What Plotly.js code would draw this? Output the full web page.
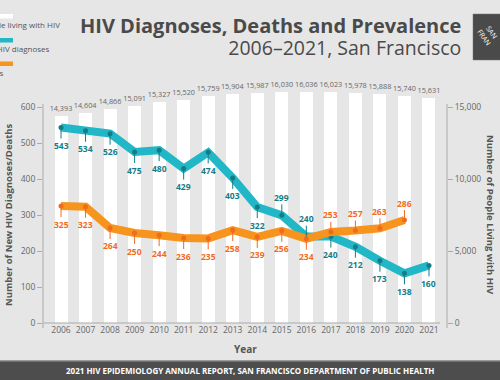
<!DOCTYPE html>
<html><head><meta charset="utf-8">
<script src="https://cdn.plot.ly/plotly-3.0.1.min.js"></script>
<style>html,body{margin:0;padding:0;background:#e6e6e6}#c{width:500px;height:380px}</style>
</head><body><div id="c"></div>
<script>
const years = [2006,2007,2008,2009,2010,2011,2012,2013,2014,2015,2016,2017,2018,2019,2020,2021];
const livingWithHIV = [14393,14604,14866,15091,15327,15520,15759,15904,15987,16030,16036,16023,15978,15888,15740,15631];
const newDiagnoses = [543,534,526,475,480,429,474,403,322,299,240,240,212,173,138,160];
const deathYears = [2006,2007,2008,2009,2010,2011,2012,2013,2014,2015,2016,2017,2018,2019,2020];
const deaths = [325,323,264,250,244,236,235,258,239,256,234,253,257,263,286];
const diagLabelAbove = [2015,2016];
const deathLabelAbove = [2017,2018,2019,2020];
const leftTicks = [0,100,200,300,400,500,600];
const rightTicks = [0,5000,10000,15000];

const FONT = "Open Sans, sans-serif";
const W = 500, H = 380, L = 43, R = 53, T = 71, B = 57;
const pw = W - L - R, ph = H - T - B;
const px = x => (x - L) / pw;
const py = y => (H - B - y) / ph;

const TEAL = "#21b7c7", TEAL_D = "#157c86", ORANGE = "#f7941d", ORANGE_D = "#f26a21";

const traces = [
  {type:"bar", x:years, y:livingWithHIV, yaxis:"y", marker:{color:"#ffffff"}, width:0.53,
   text:livingWithHIV.map(v=>v.toLocaleString("en-US")), textposition:"outside", cliponaxis:false, constraintext:"none",
   textfont:{family:FONT, size:7.3, color:"#666"}, hoverinfo:"skip"},
  {type:"scatter", mode:"lines+markers", x:years, y:newDiagnoses, yaxis:"y2",
   line:{color:TEAL, width:8}, marker:{color:TEAL_D, size:5}, cliponaxis:false},
  {type:"scatter", mode:"lines+markers", x:deathYears, y:deaths, yaxis:"y2",
   line:{color:ORANGE, width:8}, marker:{color:ORANGE_D, size:5}, cliponaxis:false}
];

const ann = [];
years.forEach((yr,i)=>{
  const up = diagLabelAbove.includes(yr);
  ann.push({x:yr, y:newDiagnoses[i], xref:"x", yref:"y2", text:"<b>"+newDiagnoses[i]+"</b>",
    showarrow:true, arrowhead:0, arrowwidth:1, arrowcolor:TEAL_D, ax:0, ay: up ? -18 : 18,
    font:{family:FONT, size:8.5, color:TEAL_D}});
});
deathYears.forEach((yr,i)=>{
  const up = deathLabelAbove.includes(yr);
  ann.push({x:yr, y:deaths[i], xref:"x", yref:"y2", text:"<b>"+deaths[i]+"</b>",
    showarrow:true, arrowhead:0, arrowwidth:1, arrowcolor:ORANGE_D, ax:0, ay: up ? -17 : 18,
    font:{family:FONT, size:8.5, color:ORANGE_D}});
});
// title block (one text, two lines)
ann.push({xref:"paper", yref:"paper", x:px(463), y:py(36), xanchor:"right", yanchor:"middle", align:"right", showarrow:false,
  text:"<span style='font-size:20px;font-weight:bold'>HIV Diagnoses, Deaths and Prevalence</span><br><span style='font-size:19.5px'>2006–2021, San Francisco</span>",
  font:{family:FONT, size:17, color:"#4a4a4a"}});
// legend
ann.push({xref:"paper", yref:"paper", x:px(62), y:py(25), xanchor:"right", yanchor:"middle", showarrow:false,
  text:"People living with HIV", font:{family:FONT, size:8, color:"#555"}});
ann.push({xref:"paper", yref:"paper", x:px(52), y:py(48), xanchor:"right", yanchor:"middle", showarrow:false,
  text:"New HIV diagnoses", font:{family:FONT, size:8, color:"#555"}});
ann.push({xref:"paper", yref:"paper", x:px(6), y:py(72), xanchor:"right", yanchor:"middle", showarrow:false,
  text:"Deaths", font:{family:FONT, size:8, color:"#555"}});
// axis titles
ann.push({xref:"paper", yref:"paper", x:px(245), y:py(349), xanchor:"center", yanchor:"middle", showarrow:false,
  text:"<b>Year</b>", font:{family:FONT, size:10, color:"#555"}});
ann.push({xref:"paper", yref:"paper", x:px(8), y:py(215), textangle:-90, xanchor:"center", yanchor:"middle", showarrow:false,
  text:"<b>Number of New HIV Diagnoses/Deaths</b>", font:{family:FONT, size:9.5, color:"#555"}});
ann.push({xref:"paper", yref:"paper", x:px(491), y:py(215), textangle:90, xanchor:"center", yanchor:"middle", showarrow:false,
  text:"<b>Number of People Living with HIV</b>", font:{family:FONT, size:9.5, color:"#555"}});
// footer
ann.push({xref:"paper", yref:"paper", x:px(250), y:py(370.5), xanchor:"center", yanchor:"middle", showarrow:false,
  text:"<b>2021 HIV EPIDEMIOLOGY ANNUAL REPORT, SAN FRANCISCO DEPARTMENT OF PUBLIC HEALTH</b>", font:{family:FONT, size:8, color:"#ffffff"}});
// logo text
ann.push({xref:"paper", yref:"paper", x:px(488), y:py(35), textangle:55, xanchor:"center", yanchor:"middle", showarrow:false,
  text:"SAN<br>FRAN", font:{family:FONT, size:7, color:"#ffffff"}});

const shapes = [
  // legend swatches
  {type:"rect", xref:"paper", yref:"paper", x0:px(-30), x1:px(13), y0:py(14), y1:py(18.5), fillcolor:"#ffffff", line:{width:0}},
  {type:"rect", xref:"paper", yref:"paper", x0:px(-30), x1:px(13), y0:py(38), y1:py(42.5), fillcolor:TEAL, line:{width:0}},
  {type:"rect", xref:"paper", yref:"paper", x0:px(-30), x1:px(13), y0:py(61.5), y1:py(66), fillcolor:ORANGE, line:{width:0}},
  // axis lines
  {type:"line", xref:"paper", yref:"paper", x0:0, x1:0, y0:py(328), y1:py(104), line:{color:"#aaa", width:1}},
  {type:"line", xref:"paper", yref:"paper", x0:1, x1:1, y0:py(328), y1:py(104), line:{color:"#aaa", width:1}},
  {type:"line", xref:"paper", yref:"paper", x0:0, x1:px(440), y0:0, y1:0, line:{color:"#aaa", width:1}},
  // footer
  {type:"rect", xref:"paper", yref:"paper", x0:px(0), x1:px(500), y0:py(360), y1:py(380), fillcolor:"#999", line:{width:0}},
  {type:"rect", xref:"paper", yref:"paper", x0:px(0), x1:px(500), y0:py(361.5), y1:py(380), fillcolor:"#4d4d4d", line:{width:0}},
  // logo
  {type:"rect", xref:"paper", yref:"paper", x0:px(473), x1:px(505), y0:py(14), y1:py(60), fillcolor:"#4a4a4a", line:{color:"#777", width:0.5}}
];

const layout = {
  width:W, height:H, margin:{l:L, r:R, t:T, b:B, pad:0},
  paper_bgcolor:"#e6e6e6", plot_bgcolor:"rgba(0,0,0,0)", showlegend:false,
  font:{family:FONT, color:"#666"},
  bargap:0,
  xaxis:{range:[years[0]-0.734, years[years.length-1]+0.734], tickvals:years, ticks:"", showgrid:false, zeroline:false, showline:false,
    tickfont:{family:FONT, size:8.5, color:"#666"}, fixedrange:true},
  yaxis:{side:"right", range:[0,17500], tickvals:rightTicks, tickformat:",", ticks:"outside", ticklen:5, tickcolor:"#aaa",
    showgrid:false, zeroline:false, showline:false, tickfont:{family:FONT, size:8.5, color:"#666"}},
  yaxis2:{overlaying:"y", side:"left", range:[0,700], tickvals:leftTicks, ticks:"outside", ticklen:5, tickcolor:"#aaa",
    showgrid:false, zeroline:false, showline:false, tickfont:{family:FONT, size:8.5, color:"#666"}},
  annotations:ann, shapes:shapes
};
Plotly.newPlot("c", traces, layout, {displayModeBar:false, staticPlot:true});
</script></body></html>
